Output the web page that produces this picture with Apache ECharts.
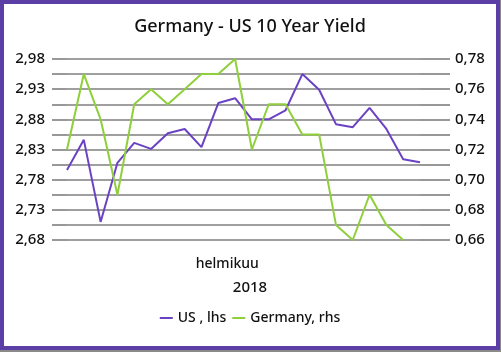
<!DOCTYPE html>
<html>
<head>
<meta charset="utf-8">
<script src="https://cdn.jsdelivr.net/npm/echarts@6/dist/echarts.min.js"></script>
<style>
  html, body { margin: 0; padding: 0; background: #8a8a8a; }
  #chart {
    position: absolute; left: 0; top: 0;
    width: 500px; height: 350px;
    box-sizing: border-box;
    border: 4px solid #5b3ea6;
    background: #fff;
  }
</style>
</head>
<body>
<div id="chart"></div>
<script>
// trading days Feb 1 - Mar 2, 2018
var dates = [
  "2018-02-01", "2018-02-02", "2018-02-05", "2018-02-06", "2018-02-07", "2018-02-08",
  "2018-02-09", "2018-02-12", "2018-02-13", "2018-02-14", "2018-02-15", "2018-02-16",
  "2018-02-19", "2018-02-20", "2018-02-21", "2018-02-22", "2018-02-23", "2018-02-26",
  "2018-02-27", "2018-02-28", "2018-03-01", "2018-03-02"
];
var usYield = [2.796, 2.846, 2.71, 2.808, 2.841, 2.831, 2.857, 2.864, 2.834, 2.907, 2.915,
  2.88, 2.88, 2.895, 2.955, 2.929, 2.872, 2.867, 2.899, 2.864, 2.814, 2.809];
var germanyYield = [0.72, 0.77, 0.74, 0.69, 0.75, 0.76, 0.75, 0.76, 0.77, 0.77, 0.78,
  0.72, 0.75, 0.75, 0.73, 0.73, 0.67, 0.66, 0.69, 0.67, 0.66, null];
var monthLabel = "helmikuu";
var monthLabelIndex = 9;
var yearLabel = "2018";

var font = "'Noto Sans', sans-serif";
var textColor = "#111";
var gridColor = "#7f7f7f";

function comma(v) {
  return v.toFixed(2).replace(".", ",");
}

var chart = echarts.init(document.getElementById("chart"));
chart.setOption({
  animation: false,
  title: {
    text: "Germany - US 10 Year Yield",
    left: "center",
    top: 9,
    textStyle: { fontFamily: font, fontSize: 18, fontWeight: 500, color: textColor }
  },
  legend: {
    bottom: 16,
    left: "center",
    icon: "rect",
    itemWidth: 13,
    itemHeight: 2,
    itemGap: 6,
    textStyle: { fontFamily: font, fontSize: 14, fontWeight: 500, color: textColor },
    data: ["US , lhs", "Germany, rhs"]
  },
  grid: { left: 63, right: 76, top: 55, bottom: 106 },
  xAxis: {
    type: "category",
    data: dates,
    boundaryGap: false,
    axisLine: { show: false },
    axisTick: { show: false },
    axisLabel: {
      interval: 0,
      margin: 17,
      fontFamily: font,
      fontSize: 14,
      fontWeight: 500,
      color: textColor,
      padding: [0, 0, 0, 18],
      formatter: function (v, i) { return i === monthLabelIndex ? monthLabel : ""; }
    },
    name: yearLabel,
    nameLocation: "middle",
    nameGap: 40,
    nameTextStyle: { fontFamily: font, fontSize: 15, fontWeight: 500, color: textColor, padding: [0, 0, 0, 13] }
  },
  yAxis: [
    {
      type: "value",
      min: 2.68,
      max: 2.98,
      interval: 0.025,
      axisLine: { show: false },
      axisTick: { show: true, length: 15, lineStyle: { color: gridColor, width: 1.6 } },
      splitLine: { show: true, lineStyle: { color: gridColor, width: 1.6 } },
      axisLabel: {
        margin: 22,
        fontFamily: font,
        fontSize: 15,
        fontWeight: 500,
        color: textColor,
        formatter: function (v) {
          return Math.round(v * 1000) % 50 === 30 ? comma(v) : "";
        }
      }
    },
    {
      type: "value",
      min: 0.66,
      max: 0.78,
      interval: 0.01,
      position: "right",
      axisLine: { show: false },
      axisTick: { show: true, length: 30, lineStyle: { color: gridColor, width: 1.6 } },
      splitLine: { show: false },
      axisLabel: {
        margin: 35,
        fontFamily: font,
        fontSize: 15,
        fontWeight: 500,
        color: textColor,
        formatter: function (v) {
          return Math.round(v * 100) % 2 === 0 ? comma(v) : "";
        }
      }
    }
  ],
  series: [
    {
      name: "US , lhs",
      type: "line",
      yAxisIndex: 0,
      data: usYield,
      symbol: "none",
      color: "#6a42c2",
      lineStyle: { width: 2 }
    },
    {
      name: "Germany, rhs",
      type: "line",
      yAxisIndex: 1,
      data: germanyYield,
      symbol: "none",
      color: "#8fcf3c",
      lineStyle: { width: 2 }
    }
  ]
});
</script>
</body>
</html>
